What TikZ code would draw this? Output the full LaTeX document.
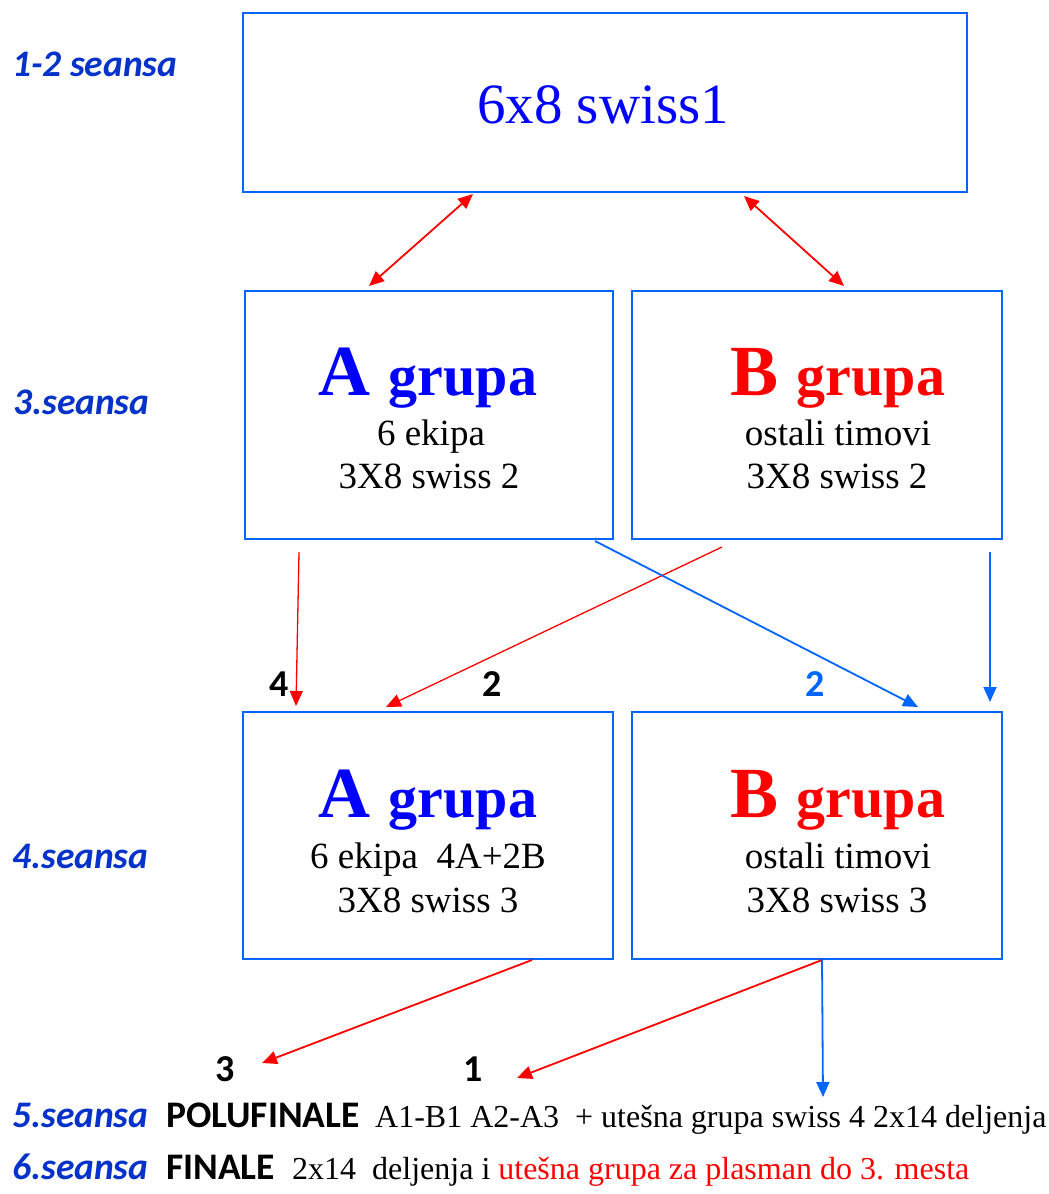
\documentclass[tikz,border=0pt]{standalone}
\usepackage{fontspec}
\setmainfont{Liberation Serif}
\newfontfamily\calfont{Carlito}
\usetikzlibrary{arrows.meta}
\definecolor{boxblue}{RGB}{0,102,255}
\definecolor{lblblue}{RGB}{5,50,200}
\definecolor{txtblue}{RGB}{0,0,255}
\definecolor{myred}{RGB}{255,0,0}
\begin{document}
\begin{tikzpicture}[x=1pt,y=-1pt,
  box/.style={draw=boxblue, line width=2pt, rectangle, inner sep=0pt},
  lbl/.style={anchor=base west, inner sep=0pt, text=lblblue, font=\calfont\bfseries\itshape\fontsize{37.5}{40}\selectfont},
  bword/.style={anchor=base west, inner sep=0pt, font=\calfont\bfseries\fontsize{37.5}{40}\selectfont},
  btext/.style={anchor=base west, inner sep=0pt, font=\fontsize{32}{36}\selectfont},
  head/.style={anchor=base, inner sep=0pt},
  body/.style={anchor=base, inner sep=0pt, font=\fontsize{37}{40}\selectfont},
  num/.style={anchor=base, inner sep=0pt, font=\calfont\bfseries\fontsize{38}{40}\selectfont},
  tipp/.style={-{Triangle[length=15pt,width=13pt]}},
  redarr/.style={draw=myred, line width=1.8pt, tipp},
  thinred/.style={draw=myred, line width=1.3pt, tipp},
  bluearr/.style={draw=boxblue, line width=1.8pt, tipp},
]
\useasboundingbox[fill=white] (0,0) rectangle (1049,1194);

% boxes
\node[box, minimum width=724pt, minimum height=179pt] (top) at (605,102.5) {};
\node[box, minimum width=368pt, minimum height=248pt] (A3) at (429,415) {};
\node[box, minimum width=370pt, minimum height=248pt] (B3) at (817,415) {};
\node[box, minimum width=370pt, minimum height=247pt] (A4) at (428,835.5) {};
\node[box, minimum width=370pt, minimum height=247pt] (B4) at (817,835.5) {};

% box texts
\node[head, text=txtblue, font=\fontsize{57}{60}\selectfont] (toptxt) at (603,123) {6x8 swiss1};

\node[head, text=txtblue] (A3h) at (428,395) {\bfseries\fontsize{72}{76}\selectfont A \fontsize{58}{60}\selectfont grupa};
\node[body] (A3a) at (431,445) {6 ekipa};
\node[body] (A3b) at (429,488) {3X8 swiss 2};

\node[head, text=myred] (B3h) at (838,395) {\bfseries\fontsize{72}{76}\selectfont B \fontsize{58}{60}\selectfont grupa};
\node[body] (B3a) at (838,445) {ostali timovi};
\node[body] (B3b) at (837,488) {3X8 swiss 2};

\node[head, text=txtblue] (A4h) at (428,817) {\bfseries\fontsize{72}{76}\selectfont A \fontsize{58}{60}\selectfont grupa};
\node[body] (A4a) at (428,868) {6 ekipa\ \ 4A+2B};
\node[body] (A4b) at (428,912) {3X8 swiss 3};

\node[head, text=myred] (B4h) at (838,817) {\bfseries\fontsize{72}{76}\selectfont B \fontsize{58}{60}\selectfont grupa};
\node[body] (B4a) at (838,868) {ostali timovi};
\node[body] (B4b) at (837,912) {3X8 swiss 3};

% left labels
\node[lbl] (s12) at (12,76) {1-2 seansa};
\node[lbl] (s3) at (13,414) {3.seansa};
\node[lbl] (s4) at (12,868) {4.seansa};
\node[lbl] (s5) at (12,1127) {5.seansa};
\node[lbl] (s6) at (12,1179) {6.seansa};

% bottom lines
\node[bword] (polu) at (166,1127) {POLUFINALE};
\node[btext] (polut) at (375,1127) {A1-B1 A2-A3\ \ + utešna grupa swiss 4 2x14 deljenja};
\node[bword] (fin) at (166,1179) {FINALE};
\node[btext] (fint) at (292,1179) {2x14\ \ deljenja i \textcolor{myred}{utešna grupa za plasman do 3. mesta}};

% numbers
\node[num] (n4) at (279,696) {4};
\node[num] (n2a) at (492,696) {2};
\node[num, text=boxblue] (n2b) at (815,696) {2};
\node[num] (n3) at (225,1081) {3};
\node[num] (n1) at (473,1081) {1};

% free ends
\coordinate (e3) at (262,1063);
\coordinate (e1) at (517,1078);
\coordinate (e5) at (823,1097);

% connectors
\draw[redarr, {Triangle[length=15pt,width=13pt]}-{Triangle[length=15pt,width=13pt]}]
  ([shift={(231pt,-1pt)}]top.south west) -- ([shift={(125pt,4pt)}]A3.north west);
\draw[redarr, {Triangle[length=15pt,width=13pt]}-{Triangle[length=15pt,width=13pt]}]
  ([shift={(502pt,-3pt)}]top.south west) -- ([shift={(213pt,4pt)}]B3.north west);
\draw[thinred] ([shift={(55pt,-12pt)}]A3.south west) -- ([shift={(54pt,5pt)}]A4.north west);
\draw[thinred] ([shift={(91pt,-7pt)}]B3.south west) -- ([shift={(144pt,4pt)}]A4.north west);
\draw[bluearr] ([shift={(351pt,-1pt)}]A3.south west) -- ([shift={(287pt,4pt)}]B4.north west);
\draw[bluearr] ([shift={(359pt,-12pt)}]B3.south west) -- ([shift={(359pt,9pt)}]B4.north west);
\draw[redarr] ([shift={(290pt,0pt)}]A4.south west) -- (e3);
\draw[redarr] ([shift={(191pt,0pt)}]B4.south west) -- (e1);
\draw[bluearr] ([shift={(191pt,0pt)}]B4.south west) -- (e5);
\end{tikzpicture}
\end{document}
